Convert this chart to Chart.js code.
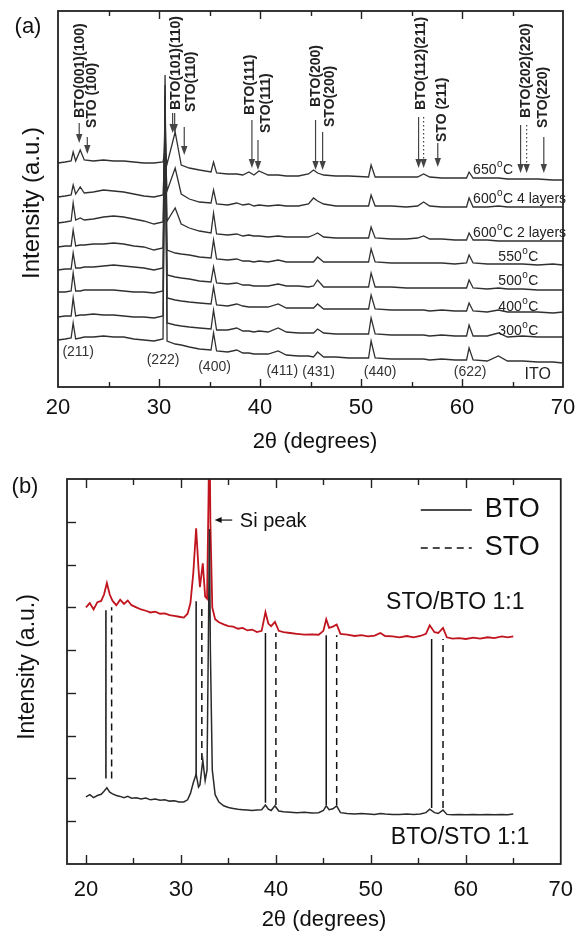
<!DOCTYPE html>
<html>
<head>
<meta charset="utf-8">
<script src="https://cdn.jsdelivr.net/npm/chart.js@4.4.0/dist/chart.umd.min.js"></script>
<style>
  body { margin: 0; background: #fff; }
  #wrap { position: relative; width: 586px; height: 932px; }
  canvas { display: block; }
</style>
</head>
<body>
<div id="wrap">
  <canvas id="panelA" width="586" height="460"></canvas>
  <canvas id="panelB" width="586" height="472"></canvas>
</div>
<script>
const FONT = '"Liberation Sans", Arial, Helvetica, sans-serif';

// ---------- panel (a): stacked XRD patterns on ITO ----------
const twoThetaA = [
  20, 20.7, 21.3, 21.5, 21.75, 22.2, 22.6, 23.5, 24.5, 25.5,
  26.5, 27.5, 28.5, 29.5, 30.4, 30.6, 30.8, 31.6, 32.2, 33,
  34, 35.15, 35.4, 35.7, 36.8, 37.7, 38.3, 38.9, 39.4, 39.9,
  40.8, 41.8, 42.6, 43.8, 44.8, 45.3, 45.7, 46.3, 47.5, 48.8,
  50.75, 51.0, 51.4, 53, 54.5, 55.6, 56.2, 56.8, 58, 59.3,
  60.45, 60.7, 61.1, 62.5, 63.6, 64.5, 66, 67.5, 69, 70
];
const itoA = [
  47, 48, 49, 64, 48, 49, 50, 50, 51, 50,
  50, 48, 47, 46, 48, 312, 46, 43, 42, 40,
  38, 37, 54, 36, 35, 37, 34, 34, 33, 33,
  33, 36, 32, 31, 31, 30, 35, 30, 30, 29,
  29, 46, 29, 28, 28, 28, 28, 27, 28, 27,
  27, 39, 27, 26, 31, 26, 26, 25, 25, 24
];
const t300A = [
  70, 71, 71, 89, 71, 72, 72, 73, 72, 72,
  71, 70, 70, 69, 71, 302, 64, 62, 61, 60,
  59, 58, 77, 57, 57, 59, 56, 56, 55, 56,
  55, 59, 55, 54, 54, 54, 58, 54, 53, 53,
  53, 69, 53, 52, 52, 52, 52, 51, 52, 51,
  51, 62, 51, 51, 54, 50, 51, 50, 50, 50
];
const t400A = [
  95, 95, 96, 114, 96, 96, 97, 97, 97, 97,
  96, 95, 95, 94, 96, 292, 89, 87, 86, 85,
  84, 83, 100, 82, 81, 83, 81, 80, 80, 80,
  80, 83, 79, 79, 79, 79, 83, 78, 78, 78,
  78, 92, 78, 77, 77, 77, 77, 76, 77, 76,
  76, 84, 76, 75, 77, 75, 75, 75, 74, 75
];
const t500A = [
  117, 118, 118, 134, 119, 119, 120, 120, 121, 122,
  121, 120, 119, 117, 119, 280, 112, 110, 109, 108,
  106, 105, 120, 104, 103, 104, 102, 102, 101, 101,
  101, 103, 101, 101, 100, 101, 107, 100, 100, 100,
  100, 114, 100, 100, 99, 99, 99, 99, 99, 99,
  99, 107, 99, 98, 99, 98, 98, 97, 97, 97
];
const t550A = [
  140, 141, 141, 157, 141, 142, 142, 143, 143, 144,
  143, 141, 140, 137, 139, 270, 137, 134, 133, 132,
  130, 129, 147, 128, 127, 128, 126, 126, 125, 126,
  125, 127, 125, 125, 125, 125, 130, 125, 125, 125,
  125, 138, 125, 124, 124, 124, 124, 124, 124, 123,
  124, 132, 124, 123, 123, 123, 123, 122, 123, 122
];
const t600x2A = [
  164, 165, 166, 184, 167, 169, 167, 168, 170, 171,
  170, 168, 166, 163, 165, 260, 166, 179, 163, 159,
  156, 154, 174, 153, 152, 153, 151, 152, 151, 151,
  150, 151, 150, 150, 150, 152, 154, 150, 149, 149,
  149, 160, 149, 148, 148, 149, 151, 148, 148, 147,
  147, 154, 147, 147, 146, 146, 146, 146, 146, 146
];
const t600x4A = [
  190, 191, 192, 202, 193, 200, 194, 195, 197, 196,
  195, 193, 191, 190, 192, 240, 196, 219, 193, 188,
  185, 184, 197, 183, 182, 184, 182, 183, 181, 182,
  181, 182, 181, 181, 183, 189, 186, 183, 181, 181,
  181, 192, 181, 181, 180, 181, 185, 181, 180, 180,
  180, 189, 180, 180, 181, 180, 180, 180, 180, 180
];
const t650A = [
  224, 225, 226, 235, 226, 237, 227, 226, 227, 226,
  226, 225, 224, 224, 225, 237, 223, 255, 222, 219,
  217, 215, 225, 214, 213, 213, 212, 215, 212, 216,
  212, 212, 211, 211, 213, 217, 214, 212, 211, 211,
  210, 222, 210, 210, 210, 210, 213, 210, 209, 209,
  209, 215, 209, 209, 209, 208, 208, 208, 207, 207
];
const seriesA = [itoA, t300A, t400A, t500A, t550A, t600x2A, t600x4A, t650A];
const ticksA = [20, 30, 40, 50, 60, 70];
const minorTicksA = [25, 35, 45, 55, 65];

// ITO reflections written under the bottom trace
const itoHkl = ['(211)', '(222)', '(400)', '(411)', '(431)', '(440)', '(622)'];
const itoHklAt = [22.0, 30.4, 35.5, 42.2, 45.8, 51.9, 60.8];
const itoHklY = [35, 27, 20, 16, 15, 15, 15];

// sample labels on the right
const tempNum = ['650', '600', '600', '550', '500', '400', '300'];
const tempTail = ['', ' 4 layers', ' 2 layers', '', '', '', ''];
const tempX = [61.1, 61.1, 61.1, 63.6, 63.6, 63.6, 63.6];
const tempY = [217, 188, 154, 130, 106, 80, 56];

// reflection markers (arrow x, arrow top, arrow tip, label x, label bottom)
const marksA = [
  { label: 'BTO(001)(100)', x: 22.1, top: 264, tip: 244, lx: 22.2, ly: 269 },
  { label: 'STO (100)', x: 22.9, top: 250, tip: 233, lx: 23.4, ly: 259 },
  { label: 'BTO(101)(110)', x: 31.35, top: 274, tip: 254, lx: 31.7, ly: 277, twin: 31.55 },
  { label: 'STO(110)', x: 32.5, top: 260, tip: 232, lx: 33.2, ly: 275 },
  { label: 'BTO(111)', x: 39.2, top: 267, tip: 219, lx: 39.0, ly: 272 },
  { label: 'STO(111)', x: 39.8, top: 247, tip: 217, lx: 40.6, ly: 254 },
  { label: 'BTO(200)', x: 45.5, top: 267, tip: 217, lx: 45.6, ly: 280 },
  { label: 'STO(200)', x: 46.2, top: 255, tip: 217, lx: 46.9, ly: 260 },
  { label: 'BTO(112)(211)', x: 55.7, top: 270, tip: 219, lx: 56.0, ly: 277, dotted: 56.2 },
  { label: 'STO (211)', x: 57.6, top: 244, tip: 220, lx: 58.0, ly: 245 },
  { label: 'BTO(202)(220)', x: 65.8, top: 262, tip: 214, lx: 66.4, ly: 269, dotted: 66.4 },
  { label: 'STO(220)', x: 68.1, top: 250, tip: 214, lx: 68.0, ly: 259 }
];

// ---------- panel (b): superlattices on Si ----------
const twoThetaB = [
  20.0, 20.4, 20.8, 21.2, 21.6, 21.9, 22.2, 22.5, 22.8, 23.2,
  23.6, 24.0, 24.4, 24.8, 25.3, 25.8, 26.3, 26.8, 27.3, 27.8,
  28.3, 28.8, 29.3, 29.8, 30.3, 30.7, 31.0, 31.3, 31.6, 31.85,
  32.0, 32.3, 32.55, 32.75, 32.9, 33.0, 33.1, 33.3, 33.6, 34.0,
  34.5, 35.0, 35.5, 36.0, 36.5, 37.0, 37.5, 38.0, 38.5, 38.9,
  39.2, 39.5, 39.9, 40.3, 40.8, 41.5, 42.2, 43.0, 43.8, 44.5,
  45.0, 45.3, 45.6, 46.0, 46.4, 46.8, 47.5, 48.3, 49.0, 49.7,
  50.4, 51.0, 51.5, 52.3, 53.0, 53.8, 54.5, 55.2, 55.8, 56.2,
  56.7, 57.1, 57.6, 58.0, 58.6, 59.3, 60.0, 60.8, 61.5, 62.3,
  63.0, 63.8, 64.4, 65.0
];
const stoBtoB = [
  6.00, 6.10, 5.95, 6.12, 6.15, 6.30, 6.57, 6.30, 6.15, 6.05,
  6.18, 6.08, 6.16, 6.05, 6.00, 5.95, 5.92, 5.88, 5.90, 5.85,
  5.86, 5.82, 5.80, 5.78, 5.76, 5.85, 6.10, 6.80, 7.85, 6.90,
  6.47, 7.03, 6.25, 6.20, 8.50, 10.5, 8.00, 6.00, 5.72, 5.65,
  5.60, 5.56, 5.55, 5.50, 5.52, 5.46, 5.48, 5.42, 5.45, 5.89,
  5.62, 5.56, 5.66, 5.45, 5.42, 5.40, 5.38, 5.36, 5.37, 5.36,
  5.45, 5.72, 5.52, 5.55, 5.60, 5.38, 5.36, 5.33, 5.35, 5.32,
  5.34, 5.40, 5.33, 5.32, 5.30, 5.33, 5.30, 5.33, 5.38, 5.58,
  5.42, 5.40, 5.52, 5.30, 5.27, 5.28, 5.26, 5.29, 5.27, 5.30,
  5.28, 5.32, 5.30, 5.32
];
const btoStoB = [
  1.57, 1.62, 1.55, 1.60, 1.63, 1.70, 1.78, 1.68, 1.64, 1.60,
  1.58, 1.55, 1.58, 1.54, 1.55, 1.52, 1.54, 1.50, 1.52, 1.49,
  1.50, 1.47, 1.48, 1.45, 1.45, 1.50, 1.65, 1.90, 2.10, 1.80,
  1.85, 2.43, 1.95, 2.20, 5.50, 7.83, 5.00, 2.20, 1.62, 1.45,
  1.36, 1.32, 1.30, 1.28, 1.27, 1.26, 1.25, 1.26, 1.27, 1.38,
  1.28, 1.25, 1.36, 1.24, 1.22, 1.21, 1.20, 1.21, 1.19, 1.20,
  1.25, 1.36, 1.27, 1.29, 1.36, 1.20, 1.18, 1.17, 1.18, 1.17,
  1.16, 1.18, 1.17, 1.16, 1.16, 1.17, 1.16, 1.17, 1.20, 1.28,
  1.20, 1.18, 1.26, 1.16, 1.15, 1.16, 1.15, 1.16, 1.15, 1.16,
  1.15, 1.16, 1.15, 1.17
];
// reference reflection lines (solid BTO, dashed STO)
const btoRefX = [22.1, 31.6, 38.9, 45.3, 56.4];
const btoRefLow = [2.0, 2.08, 1.43, 1.38, 1.31];
const btoRefHigh = [5.93, 6.14, 5.4, 5.35, 5.26];
const stoRefX = [22.7, 32.2, 40.0, 46.4, 57.6];
const stoRefLow = [2.0, 2.43, 1.38, 1.38, 1.31];
const stoRefHigh = [6.0, 6.0, 5.4, 5.35, 5.26];
const ticksB = [20, 30, 40, 50, 60, 70];
const minorTicksB = [25, 35, 45, 55, 65];
const yTicksB = [1, 2, 3, 4, 5, 6, 7, 8];

// ---------- drawing helpers ----------
function downArrow(ctx, x, y1, y2, dotted) {
    ctx.save();
    ctx.strokeStyle = '#444';
    ctx.fillStyle = '#444';
    ctx.lineWidth = 1.2;
    if (dotted) ctx.setLineDash([1.5, 2.5]);
    ctx.beginPath();
    ctx.moveTo(x, y1);
    ctx.lineTo(x, y2 - 6);
    ctx.stroke();
    ctx.setLineDash([]);
    ctx.beginPath();
    ctx.moveTo(x - 3.2, y2 - 9);
    ctx.lineTo(x + 3.2, y2 - 9);
    ctx.lineTo(x, y2);
    ctx.closePath();
    ctx.fill();
    ctx.restore();
}

function tempLabel(ctx, x, y, num, tail) {
    ctx.textBaseline = 'middle';
    ctx.textAlign = 'left';
    ctx.font = `14px ${FONT}`;
    ctx.fillText(num, x, y);
    let w = ctx.measureText(num).width;
    ctx.font = `10px ${FONT}`;
    ctx.fillText('o', x + w + 0.5, y - 6);
    w += ctx.measureText('o').width + 1;
    ctx.font = `14px ${FONT}`;
    ctx.fillText('C' + tail, x + w, y);
}

function drawTicks(ctx, xs, ca, values, len) {
    values.forEach(v => {
        const px = Math.round(xs.getPixelForValue(v)) + 0.5;
        ctx.beginPath();
        ctx.moveTo(px, ca.bottom);
        ctx.lineTo(px, ca.bottom - len);
        ctx.moveTo(px, ca.top);
        ctx.lineTo(px, ca.top + len);
        ctx.stroke();
    });
}

function vText(ctx, text, x, y, font) {
    ctx.save();
    ctx.translate(x, y);
    ctx.rotate(-Math.PI / 2);
    ctx.font = font;
    ctx.textAlign = 'center';
    ctx.textBaseline = 'middle';
    ctx.fillText(text, 0, 0);
    ctx.restore();
}

// ---------- panel (a) chart ----------
const panelAPlugin = {
    id: 'panelA',
    afterDraw(chart) {
        const { ctx, chartArea: ca } = chart;
        const xs = chart.scales.x, ys = chart.scales.y;
        ctx.save();

        // frame + inward ticks
        ctx.strokeStyle = '#222';
        ctx.lineWidth = 1.8;
        ctx.strokeRect(ca.left, ca.top, ca.right - ca.left, ca.bottom - ca.top);
        ctx.lineWidth = 1.4;
        drawTicks(ctx, xs, ca, ticksA.slice(1, -1), 8);
        drawTicks(ctx, xs, ca, minorTicksA, 5);

        // reflection markers
        marksA.forEach(m => {
            const px = xs.getPixelForValue(m.x);
            downArrow(ctx, px, ys.getPixelForValue(m.top), ys.getPixelForValue(m.tip), false);
            if (m.twin) downArrow(ctx, xs.getPixelForValue(m.twin), ys.getPixelForValue(m.top), ys.getPixelForValue(m.tip), false);
            if (m.dotted) downArrow(ctx, xs.getPixelForValue(m.dotted), ys.getPixelForValue(m.top), ys.getPixelForValue(m.tip), true);
            ctx.save();
            ctx.translate(xs.getPixelForValue(m.lx), ys.getPixelForValue(m.ly));
            ctx.rotate(-Math.PI / 2);
            ctx.font = `bold 14px ${FONT}`;
            ctx.fillStyle = '#222';
            ctx.textAlign = 'left';
            ctx.textBaseline = 'middle';
            ctx.fillText(m.label, 0, 0);
            ctx.restore();
        });

        // sample labels
        ctx.fillStyle = '#222';
        tempNum.forEach((n, i) => {
            tempLabel(ctx, xs.getPixelForValue(tempX[i]), ys.getPixelForValue(tempY[i]), n, tempTail[i]);
        });
        ctx.font = `16px ${FONT}`;
        ctx.textAlign = 'left';
        ctx.fillText('ITO', xs.getPixelForValue(66.2), ys.getPixelForValue(12));

        // ITO hkl
        ctx.font = `14px ${FONT}`;
        ctx.textAlign = 'center';
        ctx.fillStyle = '#333';
        itoHkl.forEach((t, i) => {
            ctx.fillText(t, xs.getPixelForValue(itoHklAt[i]), ys.getPixelForValue(itoHklY[i]));
        });

        // titles
        ctx.fillStyle = '#111';
        vText(ctx, 'Intensity (a.u.)', 32, 203, `24px ${FONT}`);
        ctx.font = `22px ${FONT}`;
        ctx.textAlign = 'center';
        ctx.textBaseline = 'middle';
        ctx.fillText('2θ (degrees)', 315, 442);
        ctx.fillText('(a)', 28, 27);
        ctx.restore();
    }
};

new Chart(document.getElementById('panelA'), {
    type: 'line',
    data: {
        datasets: seriesA.map(vals => ({
            data: twoThetaA.map((x, i) => ({ x, y: vals[i] })),
            borderColor: '#303030',
            borderWidth: 1.3,
            pointRadius: 0,
            tension: 0
        }))
    },
    options: {
        responsive: false,
        animation: false,
        devicePixelRatio: 1,
        layout: { padding: { left: 58, top: 11, right: 23, bottom: 0 } },
        plugins: { legend: { display: false }, tooltip: { enabled: false } },
        scales: {
            x: {
                type: 'linear',
                min: 20,
                max: 70,
                afterBuildTicks: s => { s.ticks = ticksA.map(v => ({ value: v })); },
                afterFit: s => { s.height = 73; },
                grid: { display: false, drawTicks: false },
                border: { display: false },
                ticks: { font: { family: FONT, size: 22 }, color: '#111', padding: 8, maxRotation: 0 }
            },
            y: { display: false, min: 0, max: 376 }
        }
    },
    plugins: [panelAPlugin]
});

// ---------- panel (b) chart ----------
const panelBPlugin = {
    id: 'panelB',
    afterDraw(chart) {
        const { ctx, chartArea: ca } = chart;
        const xs = chart.scales.x, ys = chart.scales.y;
        ctx.save();

        ctx.strokeStyle = '#222';
        ctx.lineWidth = 1.8;
        ctx.strokeRect(ca.left, ca.top, ca.right - ca.left, ca.bottom - ca.top);
        ctx.lineWidth = 1.4;
        drawTicks(ctx, xs, ca, ticksB.slice(0, -1), 9);
        drawTicks(ctx, xs, ca, minorTicksB, 6);
        yTicksB.forEach(v => {
            const py = Math.round(ys.getPixelForValue(v)) + 0.5;
            ctx.beginPath();
            ctx.moveTo(ca.left, py);
            ctx.lineTo(ca.left + 9, py);
            ctx.stroke();
        });

        // legend
        ctx.strokeStyle = '#111';
        ctx.lineWidth = 1.5;
        ctx.beginPath();
        ctx.moveTo(ca.right - 140, ca.top + 31);
        ctx.lineTo(ca.right - 89, ca.top + 31);
        ctx.stroke();
        ctx.setLineDash([7, 5]);
        ctx.beginPath();
        ctx.moveTo(ca.right - 140, ca.top + 69);
        ctx.lineTo(ca.right - 89, ca.top + 69);
        ctx.stroke();
        ctx.setLineDash([]);
        ctx.fillStyle = '#111';
        ctx.font = `27px ${FONT}`;
        ctx.textAlign = 'left';
        ctx.textBaseline = 'middle';
        ctx.fillText('BTO', ca.right - 76, ca.top + 31);
        ctx.fillText('STO', ca.right - 76, ca.top + 69);

        // sample names
        ctx.font = `23px ${FONT}`;
        ctx.fillText('STO/BTO 1:1', xs.getPixelForValue(51.6), ys.getPixelForValue(6.1));
        ctx.fillText('BTO/STO 1:1', xs.getPixelForValue(52.1), ys.getPixelForValue(0.61));

        // Si peak pointer
        const ay = ys.getPixelForValue(8.04);
        const ax0 = xs.getPixelForValue(33.55), ax1 = xs.getPixelForValue(35.4);
        ctx.lineWidth = 1.2;
        ctx.beginPath();
        ctx.moveTo(ax0 + 5, ay);
        ctx.lineTo(ax1, ay);
        ctx.stroke();
        ctx.beginPath();
        ctx.moveTo(ax0, ay);
        ctx.lineTo(ax0 + 7, ay - 3);
        ctx.lineTo(ax0 + 7, ay + 3);
        ctx.closePath();
        ctx.fill();
        ctx.font = `20px ${FONT}`;
        ctx.fillText('Si peak', xs.getPixelForValue(36.2), ay + 1);

        // titles
        vText(ctx, 'Intensity (a.u.)', 28, 207, `23px ${FONT}`);
        ctx.font = `22px ${FONT}`;
        ctx.textAlign = 'center';
        ctx.fillText('2θ (degrees)', 324, 460);
        ctx.fillText('(b)', 25, 27);
        ctx.restore();
    }
};

const refSets = [];
btoRefX.forEach((x, i) => refSets.push({
    data: [{ x, y: btoRefLow[i] }, { x, y: btoRefHigh[i] }],
    borderColor: '#111', borderWidth: 1.5, pointRadius: 0
}));
stoRefX.forEach((x, i) => refSets.push({
    data: [{ x, y: stoRefLow[i] }, { x, y: stoRefHigh[i] }],
    borderColor: '#111', borderWidth: 1.5, pointRadius: 0, borderDash: [7, 5]
}));

new Chart(document.getElementById('panelB'), {
    type: 'line',
    data: {
        datasets: [
            {
                data: twoThetaB.map((x, i) => ({ x, y: btoStoB[i] })),
                borderColor: '#2a2a2a', borderWidth: 1.5, pointRadius: 0
            },
            {
                data: twoThetaB.map((x, i) => ({ x, y: stoBtoB[i] })),
                borderColor: '#c0141e', borderWidth: 1.8, pointRadius: 0
            },
            ...refSets
        ]
    },
    options: {
        responsive: false,
        animation: false,
        devicePixelRatio: 1,
        layout: { padding: { left: 67, top: 19, right: 24, bottom: 0 } },
        plugins: { legend: { display: false }, tooltip: { enabled: false } },
        scales: {
            x: {
                type: 'linear',
                min: 18,
                max: 70,
                afterBuildTicks: s => { s.ticks = ticksB.map(v => ({ value: v })); },
                afterFit: s => { s.height = 68; },
                grid: { display: false, drawTicks: false },
                border: { display: false },
                ticks: { font: { family: FONT, size: 22 }, color: '#111', padding: 13, maxRotation: 0 }
            },
            y: { display: false, min: 0, max: 9 }
        }
    },
    plugins: [panelBPlugin]
});
</script>
</body>
</html>
